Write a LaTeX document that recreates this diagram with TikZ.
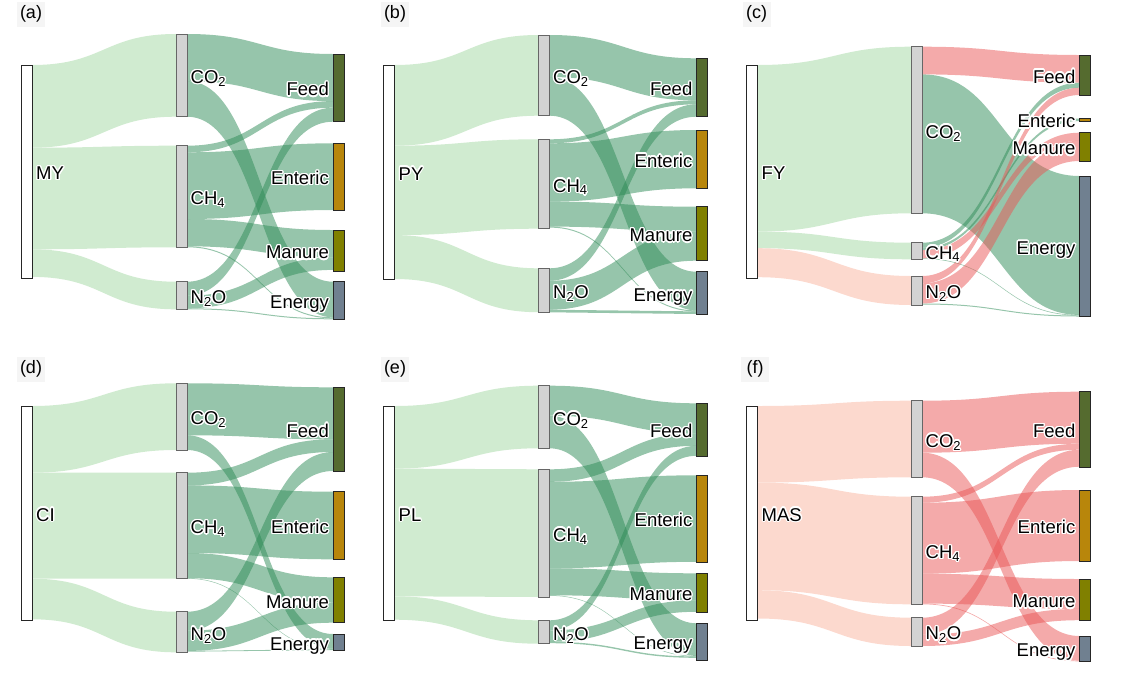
\documentclass[tikz,border=0pt]{standalone}
\usepackage{fontspec}
\setmainfont{Liberation Sans}
\usepackage{contour}
\contourlength{1.3pt}
\usetikzlibrary{calc,backgrounds}

\definecolor{linkgreen}{RGB}{46,139,87}
\definecolor{linkred}{RGB}{233,85,85}
\definecolor{srcgreen}{RGB}{208,235,208}
\definecolor{srcred}{RGB}{252,217,206}
\definecolor{barfeed}{RGB}{85,107,47}
\definecolor{barenteric}{RGB}{184,134,11}
\definecolor{barmanure}{RGB}{128,128,0}
\definecolor{barenergy}{RGB}{112,128,144}
\definecolor{bargas}{RGB}{211,211,211}
\definecolor{labelbg}{RGB}{245,245,245}

\newcommand{\halo}[1]{\contour{white}{#1}}
% band from node #1 (offset #2 below its top) to node #3 (offset #4), width #5
\newcommand{\band}[6]{%
  \fill[#6] let \p1=($(#1.north east)+(0,#2)$), \p2=($(#3.north west)+(0,#4)$) in
    (\p1) .. controls ({(\x1+\x2)/2},\y1) and ({(\x1+\x2)/2},\y2) .. (\p2)
    -- ++(0,#5) .. controls ({(\x1+\x2)/2},{\y2-#5pt}) and ({(\x1+\x2)/2},{\y1-#5pt}) .. (\x1,{\y1-#5pt}) -- cycle;}

\tikzset{
  bar/.style={rectangle, minimum width=11pt, inner sep=0pt, outer sep=0pt, anchor=north, draw=black!85, line width=0.5pt},
  srcbar/.style={bar, fill=white},
  gasbar/.style={bar, fill=bargas, draw=black!60},
  feedbar/.style={bar, fill=barfeed},
  entbar/.style={bar, fill=barenteric},
  manbar/.style={bar, fill=barmanure},
  engbar/.style={bar, fill=barenergy},
  srcg/.style={fill=srcgreen},
  srcr/.style={fill=srcred},
  lnkg/.style={fill=linkgreen, fill opacity=0.5},
  lnkr/.style={fill=linkred, fill opacity=0.5},
  lab/.style={inner sep=0pt, font=\fontsize{18.5}{20}\selectfont},
  panel/.style={fill=labelbg, inner sep=0pt, minimum width=28pt, minimum height=25pt, font=\fontsize{18}{20}\selectfont}
}

\begin{document}
\begin{tikzpicture}[x=1pt,y=-1pt]
    \useasboundingbox (0,0) rectangle (1122,673);

    % panel letters
    \foreach \p/\x/\y in {a/31/14, b/395/14, c/756.5/14, d/31/369, e/395/369, f/755/369}
        \node[panel] (lab\p) at (\x,\y) {(\p)};

    % (a) MY
    \node[srcbar, minimum height=213pt] (srca) at (26.5,65) {};
    \node[gasbar, minimum height=82.7pt] (co2a) at (181.5,34) {};
    \node[gasbar, minimum height=101.6pt] (ch4a) at (181.5,145.7) {};
    \node[gasbar, minimum height=27.6pt] (n2oa) at (181.5,281.7) {};
    \node[feedbar, minimum height=67.7pt] (feeda) at (338.5,54) {};
    \node[entbar, minimum height=66.7pt] (enta) at (338.5,143.3) {};
    \node[manbar, minimum height=41.7pt] (mana) at (338.5,230) {};
    \node[engbar, minimum height=37.6pt] (enga) at (338.5,281.7) {};

    % (b) PY
    \node[srcbar, minimum height=214pt] (srcb) at (389,65) {};
    \node[gasbar, minimum height=80.7pt] (co2b) at (544,35) {};
    \node[gasbar, minimum height=89.4pt] (ch4b) at (544,139.3) {};
    \node[gasbar, minimum height=44pt] (n2ob) at (544,268.3) {};
    \node[feedbar, minimum height=58.4pt] (feedb) at (702,58.3) {};
    \node[entbar, minimum height=58.3pt] (entb) at (702,130) {};
    \node[manbar, minimum height=54pt] (manb) at (702,206.7) {};
    \node[engbar, minimum height=42.6pt] (engb) at (702,271.7) {};

    % (c) FY
    \node[srcbar, minimum height=213.3pt] (srcc) at (752,65) {};
    \node[gasbar, minimum height=166.6pt] (co2c) at (916.5,46.7) {};
    \node[gasbar, minimum height=16.6pt] (ch4c) at (916.5,242.7) {};
    \node[gasbar, minimum height=29pt] (n2oc) at (916.5,276) {};
    \node[feedbar, minimum height=40pt] (feedc) at (1085,55) {};
    \node[entbar, minimum height=2.5pt] (entc) at (1085,118.5) {};
    \node[manbar, minimum height=28.3pt] (manc) at (1085,132.7) {};
    \node[engbar, minimum height=140.5pt] (engc) at (1085,176) {};

    % (d) CI
    \node[srcbar, minimum height=214pt] (srcd) at (26.5,406) {};
    \node[gasbar, minimum height=66.7pt] (co2d) at (181.5,383.3) {};
    \node[gasbar, minimum height=106pt] (ch4d) at (181.5,472.7) {};
    \node[gasbar, minimum height=40.6pt] (n2od) at (181.5,611.7) {};
    \node[feedbar, minimum height=83.7pt] (feedd) at (338.5,387.3) {};
    \node[entbar, minimum height=67.6pt] (entd) at (338.5,491.7) {};
    \node[manbar, minimum height=45.4pt] (mand) at (338.5,577.3) {};
    \node[engbar, minimum height=16pt] (engd) at (338.5,634) {};

    % (e) PL
    \node[srcbar, minimum height=214pt] (srce) at (389,406) {};
    \node[gasbar, minimum height=62.6pt] (co2e) at (544,385.7) {};
    \node[gasbar, minimum height=127.7pt] (ch4e) at (544,469.3) {};
    \node[gasbar, minimum height=23.4pt] (n2oe) at (544,620.3) {};
    \node[feedbar, minimum height=52.5pt] (feede) at (702,403.3) {};
    \node[entbar, minimum height=86.5pt] (ente) at (702,475.3) {};
    \node[manbar, minimum height=38.5pt] (mane) at (702,573.3) {};
    \node[engbar, minimum height=37pt] (enge) at (702,623.3) {};

    % (f) MAS
    \node[srcbar, minimum height=214pt] (srcf) at (752,406) {};
    \node[gasbar, minimum height=76.6pt] (co2f) at (916.5,400.7) {};
    \node[gasbar, minimum height=107.6pt] (ch4f) at (916.5,496.7) {};
    \node[gasbar, minimum height=28.3pt] (n2of) at (916.5,617.7) {};
    \node[feedbar, minimum height=75.3pt] (feedf) at (1085,391.7) {};
    \node[entbar, minimum height=71pt] (entf) at (1085,490) {};
    \node[manbar, minimum height=41.7pt] (manf) at (1085,579) {};
    \node[engbar, minimum height=25.7pt] (engf) at (1085,636) {};

    \begin{pgfonlayer}{background}
        % source -> gas
        \foreach \s/\a/\t/\b/\w in {srca/0/co2a/0/82.7, srca/82.7/ch4a/0/101.6, srca/184.3/n2oa/0/27.6,
            srcb/0/co2b/0/80.7, srcb/80.7/ch4b/0/89.4, srcb/170.1/n2ob/0/43.9,
            srcc/0/co2c/0/166.6, srcc/166.6/ch4c/0/16.6,
            srcd/0/co2d/0/66.7, srcd/66.7/ch4d/0/106, srcd/172.7/n2od/0/40.6,
            srce/0/co2e/0/62.6, srce/62.6/ch4e/0/127.7, srce/190.3/n2oe/0/23.4}
            \band{\s}{\a}{\t}{\b}{\w}{srcg};
        \foreach \s/\a/\t/\b/\w in {srcc/183.2/n2oc/0/29,
            srcf/0/co2f/0/76.6, srcf/76.6/ch4f/0/107.6, srcf/184.2/n2of/0/28.3}
            \band{\s}{\a}{\t}{\b}{\w}{srcr};

        % gas -> sector, green
        \foreach \s/\a/\t/\b/\w in {co2a/0/feeda/0/47.1, co2a/47.1/enga/0/35.6,
            ch4a/0/feeda/47.1/6.6, ch4a/6.6/enta/0/66.7, ch4a/73.3/mana/0/27.3, ch4a/100.6/enga/35.6/1,
            n2oa/0/feeda/53.7/14, n2oa/14/mana/27.3/12.6, n2oa/26.6/enga/36.6/1,
            co2b/0/feedb/0/42, co2b/42/engb/0/38.7,
            ch4b/0/feedb/42/4, ch4b/4/entb/0/58.3, ch4b/62.3/manb/0/25, ch4b/87.3/engb/38.7/1,
            n2ob/0/feedb/46/12.4, n2ob/12.4/manb/25/29, n2ob/41.4/engb/39.7/2.6,
            co2c/27.7/engc/0/138.9, ch4c/0/feedc/27.7/5, ch4c/5/entc/0/2.5,
            ch4c/15.6/engc/138.9/0.6, n2oc/27.5/engc/139.5/1,
            co2d/0/feedd/0/52, co2d/52/engd/0/14.7,
            ch4d/0/feedd/52/12.7, ch4d/12.7/entd/0/67.6, ch4d/80.3/mand/0/25.2, ch4d/105.5/engd/14.7/0.5,
            n2od/0/feedd/64.7/19, n2od/19/mand/25.2/20.2, n2od/39.2/engd/15.2/0.8,
            co2e/0/feede/0/30, co2e/30/enge/0/32.6,
            ch4e/0/feede/30/12.5, ch4e/12.5/ente/0/86.5, ch4e/99/mane/0/27, ch4e/126/enge/32.6/0.5,
            n2oe/0/feede/42.5/10, n2oe/10/mane/27/11.5, n2oe/21.5/enge/33.1/1.4}
            \band{\s}{\a}{\t}{\b}{\w}{lnkg};

        % gas -> sector, red
        \foreach \s/\a/\t/\b/\w in {co2c/0/feedc/0/27.7, ch4c/7.5/manc/0/8.1,
            n2oc/0/feedc/32.7/7.3, n2oc/7.3/manc/8.1/20.2,
            co2f/0/feedf/0/52, co2f/52/engf/0/24.6,
            ch4f/0/feedf/52/6, ch4f/6/entf/0/71, ch4f/77/manf/0/29.9, ch4f/106.9/engf/24.6/0.7,
            n2of/0/feedf/58/17, n2of/17/manf/29.9/11.3}
            \band{\s}{\a}{\t}{\b}{\w}{lnkr};
    \end{pgfonlayer}

    % labels
    \foreach \p/\s in {a/MY, b/PY, c/FY, d/CI, e/PL, f/MAS} {
        \node[lab, anchor=base west] (src\p-t) at ([xshift=4pt,yshift=-8pt]src\p.east) {\halo{\s}};
        \node[lab, anchor=base west] (co2\p-t) at ([xshift=3.5pt,yshift=-8pt]co2\p.east) {\halo{CO\textsubscript{2}}};
        \node[lab, anchor=base west] (ch4\p-t) at ([xshift=3.5pt,yshift=-8pt]ch4\p.east) {\halo{CH\textsubscript{4}}};
        \node[lab, anchor=base west] (n2o\p-t) at ([xshift=3.5pt,yshift=-8pt]n2o\p.east) {\halo{N\textsubscript{2}O}};
        \node[lab, anchor=base east] (feed\p-t) at ([xshift=-4pt,yshift=-8pt]feed\p.west) {\halo{Feed}};
        \node[lab, anchor=base east] (ent\p-t) at ([xshift=-4pt,yshift=-8pt]ent\p.west) {\halo{Enteric}};
        \node[lab, anchor=base east] (man\p-t) at ([xshift=-4pt,yshift=-8pt]man\p.west) {\halo{Manure}};
        \node[lab, anchor=base east] (eng\p-t) at ([xshift=-4pt,yshift=-8pt]eng\p.west) {\halo{Energy}};
    }

\end{tikzpicture}
\end{document}
